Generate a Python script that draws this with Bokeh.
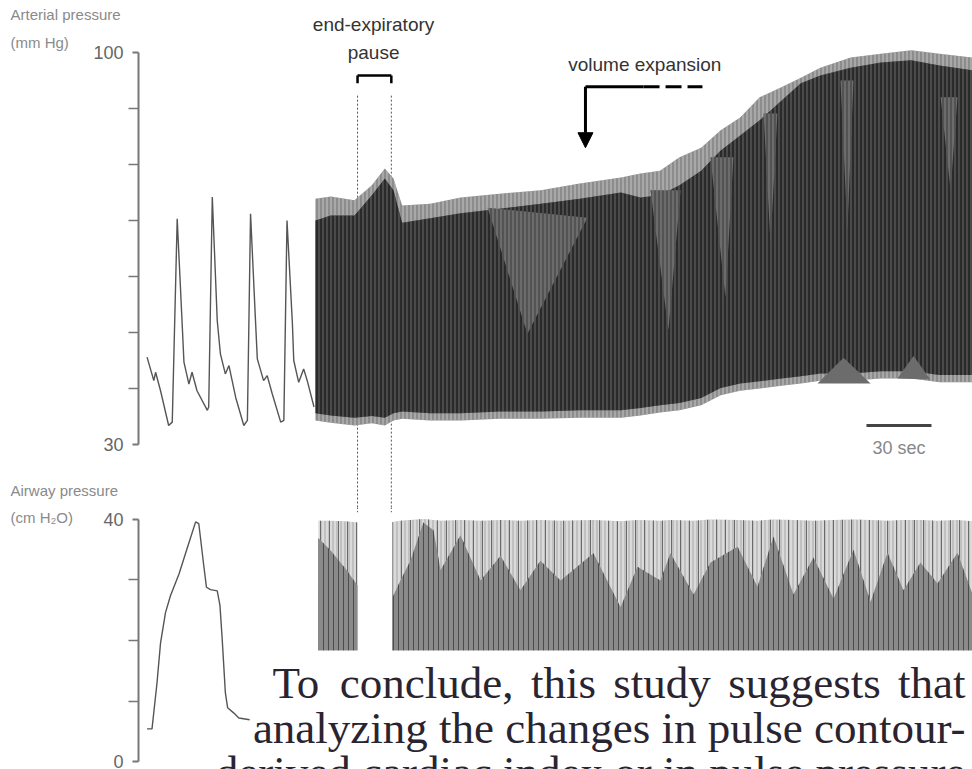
from bokeh.plotting import figure
from bokeh.layouts import column
from bokeh.models import Range1d, FixedTicker, Label, Arrow, NormalHead
from bokeh.core.properties import value
from bokeh.embed import file_html
from bokeh.resources import INLINE

# ---------------- data ----------------
# expanded arterial pressure waveform (detail time axis, s ; mm Hg)
detail_t = [0.19, 0.34, 0.38, 0.49, 0.67, 0.75, 0.86, 0.97, 1.01, 1.12, 1.19, 1.30,
            1.53, 1.56, 1.64, 1.75, 1.82, 1.93, 2.01, 2.16, 2.34, 2.42, 2.49, 2.60,
            2.64, 2.78, 2.86, 2.97, 3.16, 3.23, 3.30, 3.42, 3.45, 3.56, 3.67, 3.75, 3.90]
detail_ap = [45.6, 41.4, 42.9, 39.6, 33.4, 34.0, 70.3, 51.6, 44.7, 40.8, 42.9, 39.6,
             36.1, 36.7, 74.2, 52.1, 46.2, 42.6, 44.1, 38.4, 33.4, 34.3, 71.2, 52.1,
             45.3, 41.4, 42.3, 39.1, 34.0, 34.3, 70.0, 51.6, 45.0, 41.1, 43.5, 41.4, 36.7]

# compressed arterial pressure recording (time s ; envelopes mm Hg)
trend_t = [0, 7, 18, 26, 32, 36, 40, 53, 67, 85, 104, 122, 141, 150, 159, 168, 178,
           187, 196, 205, 215, 224, 233, 247, 261, 275, 288, 303.3]
ap_max = [73.9, 74.3, 73.6, 76.3, 79.3, 77.5, 72.7, 73.0, 74.1, 74.8, 75.4, 76.6, 77.7,
          78.4, 78.9, 81.3, 83.0, 86.1, 88.4, 92.0, 93.8, 95.5, 97.3, 99.1, 99.8, 100.4,
          99.8, 99.1]
ap_core_top = [70.0, 70.9, 70.9, 74.5, 77.5, 75.4, 69.6, 70.4, 71.3, 72.1, 73.0, 73.9,
               75.0, 74.1, 74.5, 76.3, 78.9, 82.5, 85.2, 87.9, 91.4, 94.5, 95.9, 97.3,
               98.2, 98.6, 97.7, 96.8]
ap_min = [34.3, 33.9, 33.4, 33.8, 33.4, 34.3, 34.6, 34.3, 34.3, 34.6, 34.6, 34.8, 34.8,
          35.2, 35.7, 36.1, 37.0, 38.8, 39.6, 40.0, 40.5, 40.9, 41.4, 41.4, 41.8, 41.8,
          41.1, 41.1]
ap_core_bottom = [35.6, 35.2, 34.8, 35.1, 34.8, 35.6, 35.9, 35.6, 35.6, 35.9, 35.9, 36.1,
                  36.1, 36.5, 37.0, 37.4, 38.3, 40.1, 40.9, 41.3, 41.8, 42.2, 42.7, 42.7,
                  43.1, 43.1, 42.4, 42.4]
# respiratory dips in the compressed trace (lighter wedges)
dip_t = [[79.4, 125.5, 97.8], [154.6, 168.5, 162.9], [182.3, 192.9, 189.2],
         [206.8, 213.2, 210.0], [242.3, 248.3, 245.5], [288.5, 296.3, 293.1]]
dip_ap = [[72.3, 70.5, 49.8], [75.4, 75.4, 50.4], [81.3, 81.3, 56.3],
          [89.1, 89.1, 65.9], [95.0, 95.0, 68.2], [92.0, 92.0, 75.4]]
mound_t = [[231.7, 243.7, 256.2], [268.6, 276.0, 283.8]]
mound_ap = [[40.9, 45.5, 40.9], [41.8, 45.8, 41.6]]

# expanded airway pressure (detail time axis, s ; cm H2O)
aw_detail_t = [0.19, 0.30, 0.41, 0.49, 0.60, 0.71, 0.90, 1.08, 1.27, 1.34, 1.45, 1.51,
               1.60, 1.75, 1.81, 1.86, 1.93, 1.98, 2.12, 2.23, 2.47]
aw_detail_p = [5.4, 5.4, 12.9, 19.6, 24.6, 27.4, 31.0, 35.2, 39.6, 39.3, 32.4, 28.8,
               28.4, 28.2, 25.8, 20.2, 11.4, 8.9, 8.0, 7.2, 6.9]

# compressed airway pressure, before the end-expiratory pause
aw1_t = [1.4, 6.9, 13.8, 19.4]
aw1_max = [39.8, 39.8, 39.7, 39.5]
aw1_mid = [36.9, 34.9, 31.9, 29.1]
# after the pause
aw2_t = [35.5, 39.2, 43.8, 49.8, 54.5, 57.7, 66.9, 76.2, 85.4, 94.6, 103.8, 113.1,
         128.3, 140.8, 148.6, 159.2, 163.8, 174.5, 182.3, 194.8, 204.0, 211.4, 220.6,
         229.8, 239.1, 248.3, 256.2, 264.0, 271.4, 279.2, 287.1, 296.3, 303.3]
aw2_max = [39.6, 39.8, 39.9, 40.1, 39.9, 39.8, 39.9, 39.8, 39.9, 39.8, 39.9, 39.8,
           39.9, 39.7, 39.9, 39.8, 39.9, 39.8, 40.0, 39.9, 39.8, 40.0, 39.9, 39.8,
           39.9, 40.0, 39.9, 39.8, 39.9, 39.9, 39.8, 39.9, 39.7]
aw2_mid = [27.1, 29.9, 33.2, 39.5, 38.2, 31.6, 37.4, 29.9, 34.0, 28.3, 33.2, 29.9,
           34.4, 25.5, 32.2, 29.9, 34.4, 27.6, 32.9, 35.5, 28.9, 37.2, 27.6, 33.7,
           26.9, 35.0, 26.4, 34.5, 28.3, 32.9, 29.4, 34.5, 27.6]

ap_ticks = [30, 100]
ap_minor = [40, 50, 60, 70, 80, 90]
aw_ticks = [0, 40]
aw_minor = [10, 20, 30]

pause_t = [19.4, 35.0]          # end-expiratory pause limits (s)
scale_bar_t = [254.3, 284.3]    # 30 s scale bar

paragraph = ["To conclude, this study suggests that",
             "analyzing the changes in pulse contour-",
             "derived cardiac index or in pulse pressure"]

# ---------------- styling helpers ----------------
SANS = "Liberation Sans"
SERIF = "Liberation Serif"
AX = "#777777"
LABEL_GREY = "#8a8a8a"
TEXT_DARK = "#2a2431"
LABEL_X = -2.844   # detail-axis position of the side labels (left margin)
PARA_SIZE = 45

# Times/Liberation Serif advance widths (per 1000 em), used to justify line 1
SERIF_W = {"T": 611, "o": 500, "c": 444, "n": 500, "l": 278, "u": 500, "d": 500,
           "e": 444, ",": 250, "t": 278, "h": 500, "i": 278, "s": 389, "y": 500,
           "g": 500, "a": 444}


def style_axis(ax, ticks, minor, bounds):
    ax.ticker = FixedTicker(ticks=ticks, minor_ticks=minor)
    ax.bounds = bounds
    ax.axis_line_color = AX
    ax.axis_line_width = 2
    ax.major_tick_line_color = AX
    ax.major_tick_line_width = 2
    ax.minor_tick_line_color = AX
    ax.minor_tick_line_width = 1.5
    ax.major_tick_in = 0
    ax.major_tick_out = 6
    ax.minor_tick_in = 0
    ax.minor_tick_out = 10
    ax.major_label_text_font = SANS
    ax.major_label_text_font_size = "18px"
    ax.major_label_text_color = "#666666"
    ax.major_label_standoff = 5


def side_label(p, text, y):
    # placed in the left side panel so it is not clipped to the data frame
    p.add_layout(Label(x=LABEL_X, y=y, x_range_name="detail", text=text,
                       text_font=SANS, text_font_size="15px", text_color=LABEL_GREY,
                       text_baseline="middle"), "left")


W = 972
LEFT = 138
frame_w = W - LEFT
px_per_s = 65 / 30.0
main_x = Range1d(-177 / px_per_s, frame_w / px_per_s - 177 / px_per_s)
detail_x = Range1d(0, frame_w / 45.0)

H_HEAD, H_TOP, H_MID, H_BOT = 35, 435, 37, 262


def strip(height, yr, with_axis):
    p = figure(width=W, height=height, output_backend="svg", toolbar_location=None,
               x_range=main_x, y_range=yr, x_axis_location=None,
               y_axis_location="left" if with_axis else None,
               min_border_left=LEFT, min_border_right=0,
               min_border_top=0, min_border_bottom=0)
    p.extra_x_ranges = {"detail": detail_x}
    p.outline_line_color = None
    p.grid.visible = False
    return p


# ---------------- header strip ----------------
head = strip(H_HEAD, Range1d(103.04, 109.29), False)
side_label(head, "Arterial pressure", 106.8)
head.text(x=[26.8], y=[105.0], text=["end-expiratory"], text_font=value(SANS),
          text_font_size="19px", text_color="#333333", text_align="center",
          text_baseline="middle")

# ---------------- top panel: arterial pressure ----------------
top = strip(H_TOP, Range1d(25.36, 103.04), True)
style_axis(top.yaxis[0], ap_ticks, ap_minor, (30, 100))

for pt in pause_t:
    top.segment(x0=pt, y0=92.3, x1=pt, y1=20, line_color="#555555", line_width=1,
                line_dash="2 2")

top.line(detail_t, detail_ap, x_range_name="detail", line_color="#555555", line_width=1.4)

top.varea(x=trend_t, y1=ap_min, y2=ap_max, fill_color="#8c8c8c",
          hatch_pattern="|", hatch_color="#c4c4c4", hatch_scale=4, hatch_weight=1)
top.varea(x=trend_t, y1=ap_core_bottom, y2=ap_core_top, fill_color="#2a2a2a",
          hatch_pattern="|", hatch_color="#606060", hatch_scale=4, hatch_weight=1.2)
top.patches(dip_t, dip_ap, fill_color="#6c6c6c", line_color=None,
            hatch_pattern="|", hatch_color="#3a3a3a", hatch_scale=4, hatch_weight=1)
top.patches(mound_t, mound_ap, fill_color="#6c6c6c", line_color=None)

# end-expiratory pause bracket
top.segment(x0=[pause_t[0], pause_t[0], pause_t[1]], y0=[95.9, 95.9, 95.9],
            x1=[pause_t[1], pause_t[0], pause_t[1]], y1=[95.9, 94.5, 94.5],
            line_color="black", line_width=2.5)
top.text(x=[26.8], y=[100.0], text=["pause"],
         text_font=value(SANS), text_font_size="19px", text_color="#333333",
         text_align="center", text_baseline="middle")

# volume expansion marker
top.text(x=[152.0], y=[97.9], text=["volume expansion"], text_font=value(SANS),
         text_font_size="19px", text_color="#333333", text_align="center",
         text_baseline="middle")
top.line([124.6, 151.4], [93.9, 93.9], line_color="black", line_width=3)
top.line([151.4, 178.6], [93.9, 93.9], line_color="black", line_width=3, line_dash="16 6")
top.add_layout(Arrow(end=NormalHead(size=15, fill_color="black", line_color="black"),
                     x_start=124.6, y_start=93.9, x_end=124.6, y_end=83.0,
                     line_width=3, line_color="black"))

# 30 s scale bar
top.line(scale_bar_t, [33.4, 33.4], line_color="#444444", line_width=3)
top.text(x=[sum(scale_bar_t) / 2], y=[29.3], text=["30 sec"], text_font=value(SANS),
         text_font_size="18px", text_color="#888888", text_align="center",
         text_baseline="middle")

side_label(top, "(mm Hg)", 101.8)

# ---------------- middle strip ----------------
mid = strip(H_MID, Range1d(41.98, 48.10), False)
for pt in pause_t:
    mid.segment(x0=pt, y0=40, x1=pt, y1=50, line_color="#555555", line_width=1,
                line_dash="2 2")
side_label(mid, "Airway pressure", 44.8)

# ---------------- bottom panel: airway pressure ----------------
bot = strip(H_BOT, Range1d(-1.32, 41.98), True)
style_axis(bot.yaxis[0], aw_ticks, aw_minor, (0, 40))

for pt in pause_t:
    bot.segment(x0=pt, y0=50, x1=pt, y1=41.2, line_color="#555555", line_width=1,
                line_dash="2 2")

for tt, mx, md in ((aw1_t, aw1_max, aw1_mid), (aw2_t, aw2_max, aw2_mid)):
    low = [-2] * len(tt)
    bot.varea(x=tt, y1=low, y2=mx, fill_color="#c0c0c0",
              hatch_pattern="|", hatch_color="#f4f4f4", hatch_scale=4, hatch_weight=1)
    bot.varea(x=tt, y1=low, y2=mx, fill_alpha=0,
              hatch_pattern="|", hatch_color="#6a6a6a", hatch_scale=9, hatch_weight=1)
    bot.varea(x=tt, y1=low, y2=md, fill_color="#8a8a8a",
              hatch_pattern="|", hatch_color="#4c4c4c", hatch_scale=5, hatch_weight=1)

# paragraph box overlapping the figure
bot.quad(left=-30.0, right=320, bottom=-5, top=18.35, fill_color="white", line_color=None)
bot.line(aw_detail_t, aw_detail_p, x_range_name="detail", line_color="#555555",
         line_width=1.4)

# first line is justified between the indent and the right margin
line1_words = paragraph[0].split(" ")
word_px = [sum(SERIF_W[c] for c in w) * PARA_SIZE / 1000.0 for w in line1_words]
x_left_px, x_right_px = 272 - 315, 965 - 315          # relative to trace start
gap = (x_right_px - x_left_px - sum(word_px)) / (len(line1_words) - 1)
word_x, cur = [], x_left_px
for wpx in word_px:
    word_x.append(cur / px_per_s)
    cur += wpx + gap
bot.text(x=word_x, y=[12.9] * len(line1_words), text=line1_words,
         text_font=value(SERIF), text_font_size=f"{PARA_SIZE}px",
         text_color=TEXT_DARK, text_align="left", text_baseline="alphabetic")
bot.text(x=[x_right_px / px_per_s] * 2, y=[5.6, -1.7], text=paragraph[1:],
         text_font=value(SERIF), text_font_size=f"{PARA_SIZE}px",
         text_color=TEXT_DARK, text_align="right", text_baseline="alphabetic")

side_label(bot, "(cm H₂O)", 40.3)

layout = column(head, top, mid, bot, spacing=0)
open("out.html", "w").write(file_html(layout, INLINE))
